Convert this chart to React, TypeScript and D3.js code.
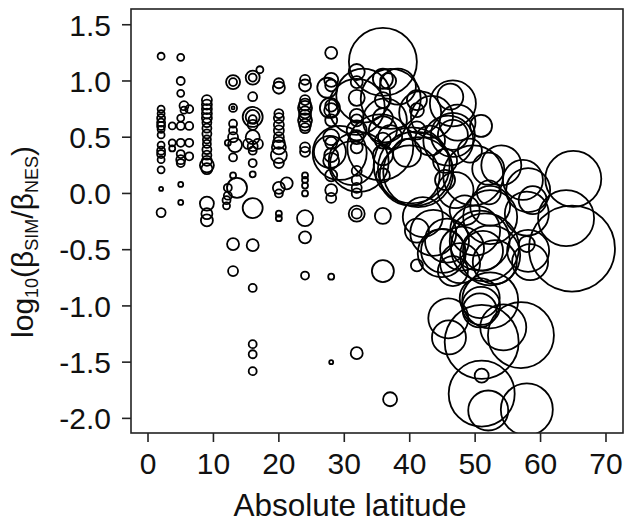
import React from "react";
import * as d3 from "d3";

// Absolute latitude of each study
const latitudes: number[] = [
  // lat 2
  2,2,2,2,2,2,2,2,2,2,2,2,2,2,2,
  // lat 4-6
  5,5,5,5.5,5.5,5,5,5,5,5,5,5,5,3.7,3.7,3.7,6.3,6.3,6.3,6.3,
  // lat 9
  9,9,9,9,9,9,9,9,9,9,9,9,9,9,9,9,9,9,
  // lat 13
  13,13,13,13,13,12.2,13,13,13.3,13,13,12.2,12.2,12,12,13.6,13,13,
  // lat 16
  16,16,17.1,16,16,16,16,16,16,15.3,16.8,16,16,16,16,16,16,16,16,16,16,
  // lat 20
  20,20,20,20,20,20,20,20,20,20,20,20,21.2,20,20,20,
  // lat 24
  24,24,24,24,24,24,24,24,24,24,24,24,24,24,24,24,24,24,24,
  // lat 28
  28,28,28,28,28,28,28,28,28,28,28,28,28,28,28,27.8,29.3,27.4,27.8,
  // lat 32
  31.9,31.9,31.9,31.9,31.9,31.9,31.9,31.9,31.9,31.9,31.9,31.9,31.9,31.9,31.9,
  // lat 36
  35.9,36.7,35.9,35.9,35.9,35.9,35.9,35.9,35.9,35.9,
  // lat 40
  41.1,41.1,41.1,41.1,41.1,
  // large circles, upper cluster
  35.9,31.9,37.1,32.9,38.2,36.2,35.5,43.4,31.2,41.6,40.8,41.3,40.3,40.0,37.0,39.6,32.2,
  46.2,46.6,46.6,46.6,45.9,45.4,45.4,50.9,54.0,49.7,47.3,52.0,
  47.0,48.4,43.1,49.2,
  // right cluster
  52.3,57.3,58.1,57.9,58.8,65.0,63.9,64.8,58.1,58.4,57.9,
  51.5,50.7,52.3,50.0,53.0,51.2,45.1,45.7,46.6,42.0,48.0,52.3,52.1,43.6,44.9,47.7,
  // lower cluster
  50.7,50.7,50.9,52.3,45.9,46.0,54.3,51.0,57.0,51.0,51.0,52.0,57.9,37.0,
];

// log10(beta_SIM / beta_NES)
const ratios: number[] = [
  1.22,0.75,0.71,0.67,0.63,0.60,0.57,0.52,0.43,0.38,0.35,0.30,0.21,0.04,-0.17,
  1.21,1.0,0.89,0.78,0.74,0.67,0.60,0.45,0.35,0.30,0.27,0.08,-0.08,0.60,0.45,0.40,0.75,0.60,0.45,0.33,
  0.83,0.79,0.75,0.71,0.67,0.63,0.58,0.53,0.48,0.44,0.39,0.34,0.29,0.25,0.22,-0.09,-0.18,-0.24,
  0.99,0.99,0.76,0.76,0.62,0.45,0.56,0.50,0.43,0.32,0.16,0.05,-0.02,-0.06,-0.11,0.05,-0.45,-0.69,
  1.03,1.03,1.10,0.86,0.68,0.68,0.66,0.61,0.50,0.44,0.44,0.42,0.38,0.27,0.17,-0.13,-0.46,-0.84,-1.34,-1.43,-1.58,
  0.98,0.94,0.71,0.67,0.61,0.56,0.50,0.45,0.41,0.34,0.27,0.05,0.09,0.0,-0.18,-0.22,
  1.01,0.96,0.83,0.79,0.76,0.72,0.69,0.65,0.61,0.58,0.41,0.37,0.16,0.12,0.07,0.0,-0.22,-0.39,-0.73,
  1.25,1.01,0.96,0.78,0.74,0.65,0.50,0.45,0.34,0.29,0.16,0.03,-0.04,-0.74,-1.5,0.37,0.36,0.94,0.76,
  1.08,0.99,0.85,0.69,0.65,0.56,0.50,0.41,0.20,0.12,0.05,0.0,-0.18,-0.18,-1.42,
  1.02,1.0,0.83,0.67,0.56,0.47,0.34,0.16,-0.2,-0.69,
  0.83,0.74,0.56,-0.33,-0.64,
  1.17,0.77,0.84,0.87,0.95,0.65,0.41,0.68,0.27,0.72,0.22,0.19,0.25,0.16,0.50,0.36,0.28,
  0.86,0.80,0.52,0.52,0.47,0.29,0.12,0.60,0.25,0.16,0.63,0.22,
  0.03,-0.15,0.47,0.38,
  -0.21,0.12,0.03,-0.18,-0.06,0.13,-0.22,-0.49,-0.51,-0.61,-0.45,
  -0.48,-0.42,-0.55,-0.33,-0.61,-0.51,-0.51,-0.42,-0.69,-0.21,-0.49,-0.95,0.01,-0.35,-0.53,-0.62,
  -0.93,-1.04,-1.0,-0.11,-1.11,-1.28,-1.19,-1.32,-1.26,-1.62,-1.78,-1.93,-1.92,-1.83,
];

// relative symbol size (study weight)
const weights: number[] = [
  3.5,3.5,3.5,4,4,4,3.5,3.5,3.5,4,4,3.5,3.5,2,4.5,
  3.5,4,3.5,4.5,3.5,3.5,4,4,4,4.5,4,2.5,2.5,3.5,3.5,3,4,4,4,4,
  5,5,5,5,5,4.5,4.5,4.5,4,4,4.5,4.5,5,7,5.5,7,5.5,6,
  7,4,4,1.5,4,3,4,5,7,4,3,4,4,4,3.5,10,6,5,
  7,4,3.5,4.5,10,7,4,5,7,5,5,5,4,4,3,10,6,4,4,4,4,
  5,6,4.5,5,5,5,5,6,7,8,5,6,6,4,3,3,
  5,6,5,6,7,6,6,7,6,5,5,5,3,3,3,3,8,6,4,
  6,7,6,6,7,6,8,6,7,8,6,6,5,3,2,16,27,10,10,
  8,6,8,7,6,10,7,6,5,5,5,5,8,5,6,
  10,8,8,10,14,8,10,7,8,11,
  10,7,9,12,6,
  34,28,30,27,18,22,33,21,22,21,37,35,38,30,12,14,30,
  13,23,15,22,25,12,10,11,20,30,18,16,
  18,15,15,12,
  27,20,22,22,14,28,28,43,21,18,8,
  34,30,30,25,22,20,22,22,15,20,22,28,12,23,24,20,
  20,17,19,20,20,17,23,37,33,7,33,20,26,7,
];

const yTicks: number[] = [-2, -1.5, -1, -0.5, 0, 0.5, 1, 1.5];
const xTicks: number[] = [0, 10, 20, 30, 40, 50, 60, 70];

const W = 629;
const H = 522;
const plot = { left: 131, right: 623, top: 9, bottom: 433 };
const FONT = "'Liberation Sans', Arial, Helvetica, sans-serif";

export default function App() {
  const x = d3.scaleLinear().domain([-2.6, 72.6]).range([plot.left, plot.right]);
  const y = d3.scaleLinear().domain([-2.13, 1.64]).range([plot.bottom, plot.top]);
  const r = d3.scaleLinear().domain([0, 45]).range([0, 45]);

  const points = latitudes.map((lat, i) => ({ lat, v: ratios[i], w: weights[i] }));

  return (
    <svg
      width={W}
      height={H}
      style={{ position: "absolute", left: 0, top: 0, background: "#fff" }}
      fontFamily={FONT}
    >
      <defs>
        <clipPath id="plotClip">
          <rect x={plot.left} y={plot.top} width={plot.right - plot.left} height={plot.bottom - plot.top} />
        </clipPath>
      </defs>
      <g clipPath="url(#plotClip)">
        {points.map((p, i) => (
          <circle
            key={i}
            cx={x(p.lat)}
            cy={y(p.v)}
            r={r(p.w)}
            fill="none"
            stroke="#000"
            strokeWidth={1.8}
          />
        ))}
      </g>
      <rect
        x={plot.left}
        y={plot.top}
        width={plot.right - plot.left}
        height={plot.bottom - plot.top}
        fill="none"
        stroke="#222"
        strokeWidth={1.6}
      />
      {yTicks.map((t) => (
        <g key={"y" + t}>
          <line x1={plot.left - 9} x2={plot.left} y1={y(t)} y2={y(t)} stroke="#222" strokeWidth={1.6} />
          <text x={111} y={y(t)} dy="0.36em" textAnchor="end" fontSize={30} fill="#111">
            {t.toFixed(1)}
          </text>
        </g>
      ))}
      {xTicks.map((t) => (
        <g key={"x" + t}>
          <line x1={x(t)} x2={x(t)} y1={plot.bottom} y2={plot.bottom + 9} stroke="#222" strokeWidth={1.6} />
          <text x={x(t)} y={474} textAnchor="middle" fontSize={30} fill="#111">
            {t}
          </text>
        </g>
      ))}
      <text x={350} y={516} textAnchor="middle" fontSize={31.5} fill="#111">
        Absolute latitude
      </text>
      <text transform="translate(33,242) rotate(-90)" textAnchor="middle" fontSize={30} fill="#111">
        <tspan>log</tspan>
        <tspan fontSize={18} dy={5}>10</tspan>
        <tspan dy={-5}>(β</tspan>
        <tspan fontSize={18} dy={5}>SIM</tspan>
        <tspan dy={-5}>/β</tspan>
        <tspan fontSize={18} dy={5}>NES</tspan>
        <tspan dy={-5}>)</tspan>
      </text>
    </svg>
  );
}
